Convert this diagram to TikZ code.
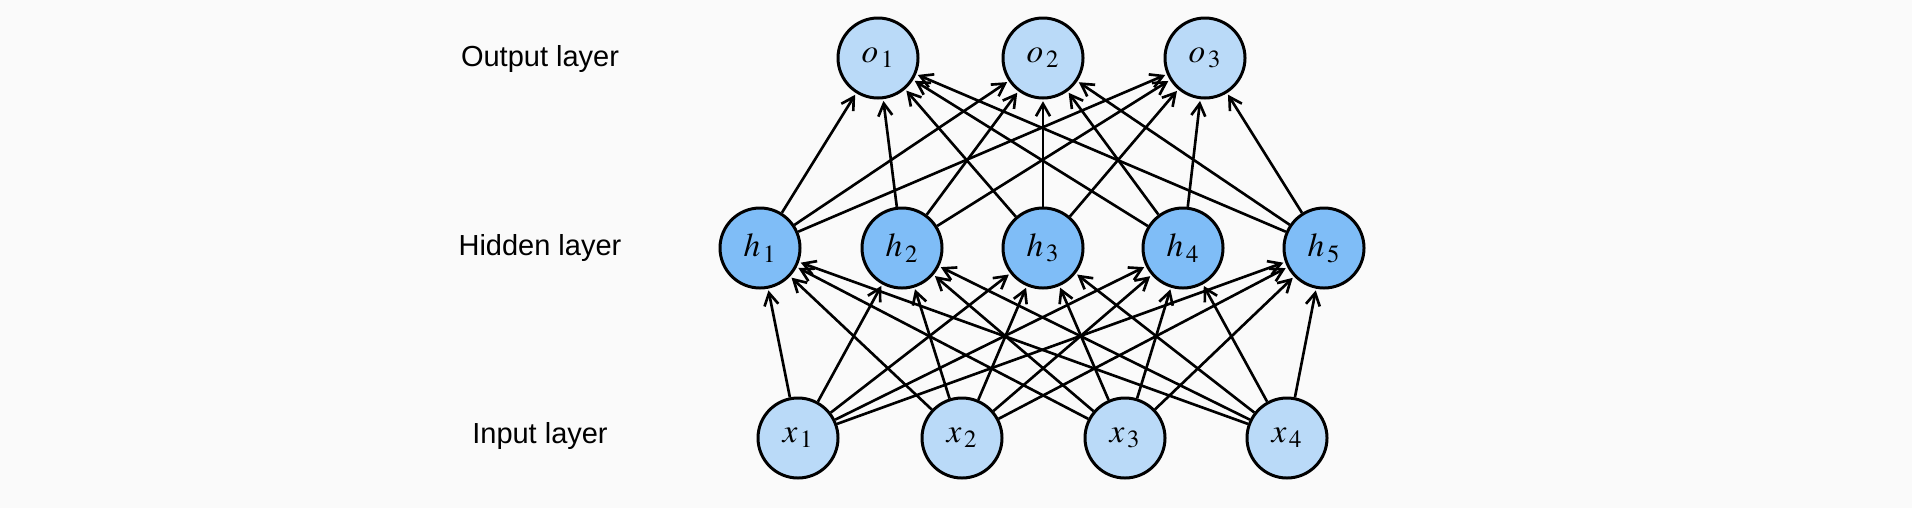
\documentclass[tikz,border=0pt]{standalone}
\usepackage{mathptmx}
\usepackage{fontspec}
\setmainfont{Liberation Sans}
\usepackage{tikz}
\usetikzlibrary{arrows.meta}
\newcommand\rad{40}
\definecolor{inblue}{HTML}{BADAF8}
\definecolor{hidblue}{HTML}{7FBDF7}
\definecolor{bgcol}{HTML}{FAFAFA}
\tikzset{neuron/.style={circle,draw=black,line width=1.7pt,minimum size=2*\rad*0.02cm,inner sep=0pt,font=\fontsize{19}{22}\selectfont},
         layername/.style={font=\fontsize{16.5}{19}\selectfont},
         conn/.style={line width=1.5pt,-{Straight Barb[length=7pt,width=8pt,line width=1.5pt]},shorten >=1pt}}

\begin{document}
\begin{tikzpicture}[x=0.02cm,y=-0.02cm]
                \fill[bgcol] (0,0) rectangle (1912,508);
                \useasboundingbox (0,0) rectangle (1912,508);
                \node[layername] (lout) at (540,59) {Output layer};
                \node[layername] (lhid) at (540,248) {Hidden layer};
                \node[layername] (lin) at (540,436) {Input layer};

                \foreach \i/\x in {1/798,2/962,3/1125,4/1287}{\node[neuron,fill=inblue] (x\i) at (\x,438) {$x_{\,\i}$};}
                \foreach \i/\x in {1/760,2/902,3/1043,4/1183,5/1324}{\node[neuron,fill=hidblue] (h\i) at (\x,248) {$h_{\,\i}$};}
                \foreach \i/\x in {1/878,2/1043,3/1205}{\node[neuron,fill=inblue] (o\i) at (\x,58) {$o_{\,\i}$};}

                \foreach \a in {1,...,4}{\foreach \b in {1,...,5}\draw[conn] (x\a) -- (h\b);}
                \foreach \b in {1,...,5}{\foreach \c in {1,...,3}\draw[conn] (h\b) -- (o\c);}
            \end{tikzpicture}
\end{document}
